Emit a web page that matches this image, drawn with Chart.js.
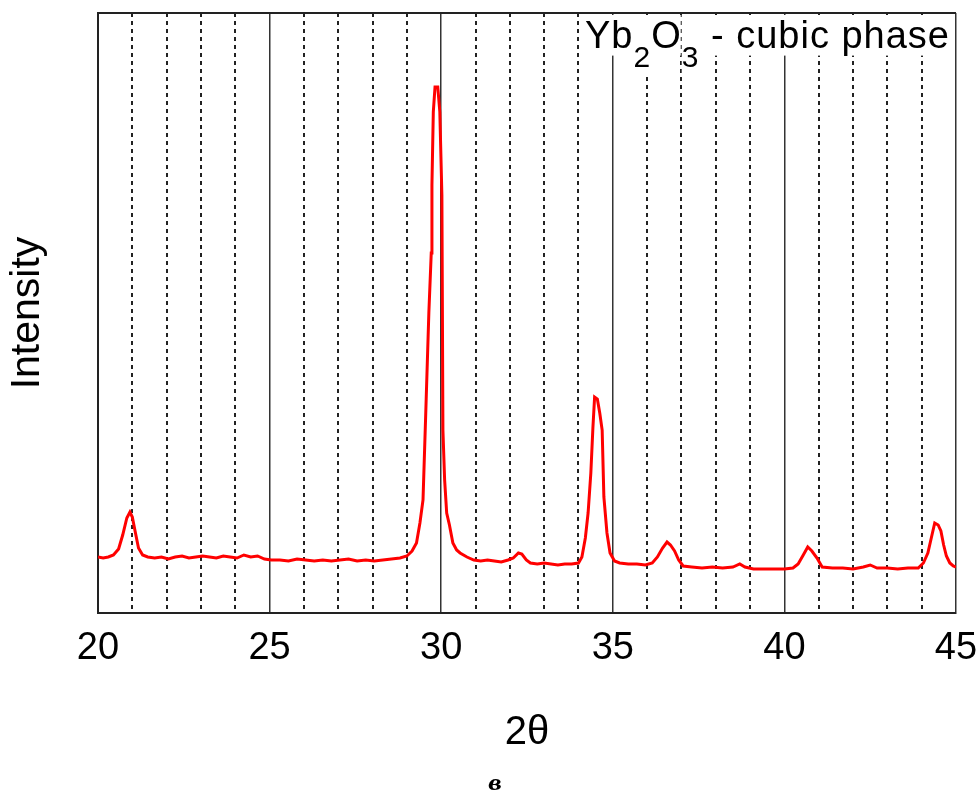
<!DOCTYPE html>
<html>
<head>
<meta charset="utf-8">
<script src="https://cdn.jsdelivr.net/npm/chart.js@4.4.1/dist/chart.umd.min.js"></script>
<style>
  html, body { margin: 0; padding: 0; background: #fff; }
  canvas { display: block; }
</style>
</head>
<body>
<canvas id="xrd" width="978" height="797"></canvas>
<script>
// 2theta (deg) and intensity (arb. units)
const twoTheta = [
  20.00, 20.15, 20.30, 20.45, 20.60, 20.72, 20.84, 20.93, 21.00, 21.08, 21.18, 21.30, 21.45, 21.65, 21.85,
  22.05, 22.25, 22.45, 22.65, 22.85, 23.05, 23.25, 23.45, 23.65, 23.85, 24.05, 24.25, 24.45, 24.65, 24.85,
  25.05, 25.30, 25.55, 25.80, 26.05, 26.30, 26.55, 26.80, 27.05, 27.30, 27.55, 27.80, 28.05, 28.30, 28.55,
  28.80, 29.00, 29.15, 29.28, 29.38, 29.47, 29.55, 29.64, 29.71, 29.73, 29.77, 29.82, 29.90, 29.96, 30.02,
  30.05, 30.10, 30.16, 30.24, 30.34, 30.45, 30.55, 30.75, 30.95, 31.15, 31.35, 31.55, 31.75, 31.95, 32.10,
  32.25, 32.35, 32.48, 32.60, 32.80, 33.00, 33.20, 33.40, 33.60, 33.80, 34.00, 34.10, 34.20, 34.28, 34.36,
  34.42, 34.47, 34.55, 34.62, 34.69, 34.74, 34.83, 34.92, 35.05, 35.20, 35.45, 35.70, 35.95, 36.15, 36.30,
  36.45, 36.58, 36.68, 36.80, 36.92, 37.05, 37.30, 37.60, 37.90, 38.20, 38.50, 38.70, 38.85, 39.10, 39.40,
  39.70, 40.00, 40.25, 40.40, 40.55, 40.68, 40.80, 40.95, 41.10, 41.40, 41.70, 42.00, 42.30, 42.50, 42.70,
  43.00, 43.30, 43.60, 43.90, 44.05, 44.18, 44.28, 44.38, 44.48, 44.56, 44.64, 44.72, 44.82, 44.92, 45.00
];
const intensity = [
  56, 55, 56, 58, 64, 78, 95, 101, 96, 82, 65, 58, 56, 55, 56,
  54, 56, 57, 55, 56, 57, 56, 55, 57, 56, 55, 58, 56, 57, 54,
  53, 53, 52, 54, 53, 52, 53, 52, 53, 54, 52, 53, 52, 53, 54,
  55, 57, 62, 70, 90, 113, 200, 300, 360, 428, 501, 526, 526, 501, 418,
  183, 133, 100, 88, 70, 63, 60, 56, 53, 52, 53, 52, 51, 53, 55,
  60, 59, 53, 50, 49, 50, 49, 48, 49, 49, 50, 56, 75, 100, 140,
  185, 216, 214, 200, 183, 116, 80, 60, 52, 50, 49, 49, 48, 50, 56,
  65, 71, 68, 62, 53, 47, 46, 45, 46, 45, 46, 49, 46, 44, 44,
  44, 44, 45, 49, 58, 66, 62, 55, 46, 45, 45, 44, 46, 48, 45,
  45, 44, 45, 45, 50, 60, 75, 90, 88, 82, 68, 57, 50, 47, 46
];
const xMin = 20, xMax = 45;
const majorStep = 5;   // solid grid + labels: 20 25 30 35 40 45
const minorStep = 1;   // dashed grid every degree
const yMin = 0, yMax = 600;

const FONT = '"Liberation Sans", Arial, sans-serif';

// "Yb2O3 - cubic phase" label, drawn with subscripts over the grid
const phaseLabel = {
  id: 'phaseLabel',
  afterDraw(chart) {
    const ctx = chart.ctx;
    const parts = [
      { t: 'Yb', sub: false }, { t: '2', sub: true }, { t: 'O', sub: false },
      { t: '3', sub: true }, { t: ' - cubic phase', sub: false }
    ];
    let x = 585;
    const base = 48, subBase = 67, spacing = 1;
    ctx.save();
    ctx.textBaseline = 'alphabetic';
    ctx.textAlign = 'left';
    for (const p of parts) {
      const size = p.sub ? 30 : 38;
      const y = p.sub ? subBase : base;
      ctx.font = size + 'px ' + FONT;
      for (const ch of p.t) {
        const w = ctx.measureText(ch).width;
        ctx.fillStyle = '#fff';
        ctx.fillRect(x, 15, w, y + size * 0.2 - 15);
        ctx.fillStyle = '#000';
        ctx.fillText(ch, x, y);
        x += w + spacing;
      }
    }
    // panel caption
    ctx.font = 'italic bold 21px "DejaVu Serif", serif';
    ctx.textAlign = 'center';
    ctx.textBaseline = 'middle';
    ctx.fillStyle = '#000';
    ctx.fillText('в', 495, 785);
    ctx.restore();
  }
};

new Chart(document.getElementById('xrd'), {
  type: 'line',
  data: {
    datasets: [{
      data: twoTheta.map((v, i) => ({ x: v, y: intensity[i] })),
      borderColor: '#ff0000',
      borderWidth: 3,
      pointRadius: 0,
      tension: 0,
      fill: false
    }]
  },
  options: {
    responsive: false,
    animation: false,
    devicePixelRatio: 1,
    layout: { padding: { left: 0, top: 13, right: 22, bottom: 40.4 } },
    plugins: { legend: { display: false }, tooltip: { enabled: false } },
    scales: {
      x: {
        type: 'linear', min: xMin, max: xMax, position: 'bottom',
        ticks: {
          stepSize: majorStep, padding: 0, color: '#000', maxRotation: 0, autoSkip: false,
          font: { family: FONT, size: 38, lineHeight: 1.2 }
        },
        grid: { color: '#333', lineWidth: 1.5, drawTicks: true, tickLength: 13, tickColor: 'rgba(0,0,0,0)' },
        border: { color: '#222', width: 2 },
        title: {
          display: true, text: '2θ', color: '#000',
          font: { family: FONT, size: 40, lineHeight: 1.2 },
          padding: { top: 37, bottom: 0 }
        }
      },
      xMinor: {
        type: 'linear', min: xMin, max: xMax, position: 'top',
        ticks: { display: false, stepSize: minorStep },
        grid: {
          drawTicks: false, lineWidth: 2,
          color: c => (c.tick && c.tick.value % majorStep === 0) ? 'rgba(0,0,0,0)' : '#222'
        },
        border: { display: false, dash: [4, 4] }
      },
      y: {
        min: yMin, max: yMax,
        ticks: { display: false, stepSize: yMax },
        grid: {
          drawTicks: false, lineWidth: 2,
          color: c => (c.tick && c.tick.value === yMax) ? '#222' : 'rgba(0,0,0,0)'
        },
        border: { color: '#222', width: 2 },
        title: {
          display: true, text: 'Intensity', color: '#000',
          font: { family: FONT, size: 41, lineHeight: 1 },
          padding: { top: 7.5, bottom: 49.5 }
        }
      }
    }
  },
  plugins: [phaseLabel]
});
</script>
</body>
</html>
